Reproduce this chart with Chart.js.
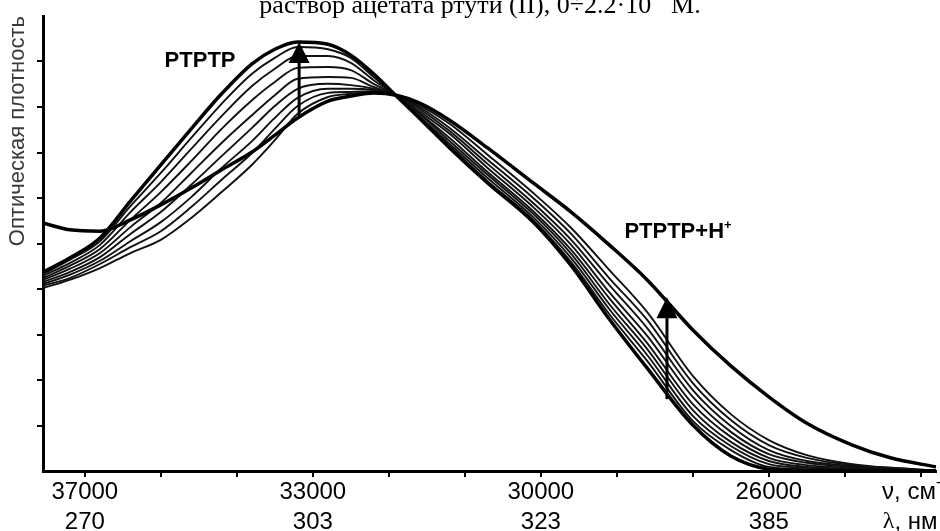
<!DOCTYPE html>
<html lang="ru">
  <head>
    <meta charset="UTF-8" />
    <title>Оптическая плотность</title>
    <script src="https://cdn.jsdelivr.net/npm/chart.js"></script>
    <style>
      html, body { margin: 0; padding: 0; background: #fff; }
      #wrap { width: 940px; height: 531px; position: relative; }
    </style>
  </head>
  <body>
    <div id="wrap"><canvas id="spectra"></canvas></div>

    <script>
      // x positions in axis-tick units (tick 0 = 37000, 3 = 33000, 6 = 30000, 9 = 26000)
      const xPos = [-0.55, -0.2, 0.2, 0.6, 1.0, 1.4, 1.8, 2.2, 2.5, 2.8, 3.2, 3.5, 3.8, 4.1,
                    4.4, 4.8, 5.3, 5.9, 6.4, 6.9, 7.4, 8.0, 8.5, 9.0, 9.5, 10.1, 10.6, 11.2];

      // tick labels
      const tickAt = [0, 3, 6, 9];
      const nuLabels = ['37000', '33000', '30000', '26000'];
      const lambdaLabels = ['270', '303', '323', '385'];

      // optical density, axis units (0..10)
      const ptptp = [4.37, 4.68, 5.12, 5.93, 6.73, 7.52, 8.29, 8.95, 9.27, 9.43, 9.38, 9.14, 8.73, 8.24,
                     7.76, 7.10, 6.33, 5.47, 4.51, 3.34, 2.26, 1.01, 0.33, 0.04, 0, 0, 0, 0];
      const step1 = [4.33, 4.64, 5.05, 5.82, 6.55, 7.32, 8.07, 8.73, 9.08, 9.32, 9.27, 9.08, 8.66, 8.24,
                     7.78, 7.14, 6.37, 5.52, 4.59, 3.45, 2.42, 1.10, 0.46, 0.09, 0.04, 0.02, 0.02, 0.01];
      const step2 = [4.29, 4.57, 4.97, 5.69, 6.35, 7.08, 7.80, 8.46, 8.84, 9.12, 9.12, 8.97, 8.59, 8.26,
                     7.80, 7.19, 6.44, 5.58, 4.68, 3.56, 2.55, 1.21, 0.55, 0.15, 0.07, 0.04, 0.02, 0.01];
      const step3 = [4.24, 4.51, 4.88, 5.52, 6.13, 6.81, 7.52, 8.15, 8.55, 8.86, 8.88, 8.81, 8.51, 8.26,
                     7.85, 7.25, 6.51, 5.65, 4.77, 3.67, 2.68, 1.34, 0.64, 0.22, 0.09, 0.04, 0.02, 0.01];
      const step4 = [4.20, 4.44, 4.79, 5.36, 5.89, 6.55, 7.21, 7.82, 8.26, 8.62, 8.66, 8.64, 8.44, 8.26,
                     7.87, 7.32, 6.57, 5.71, 4.86, 3.80, 2.81, 1.47, 0.75, 0.29, 0.13, 0.07, 0.04, 0.01];
      const step5 = [4.15, 4.37, 4.70, 5.21, 5.69, 6.29, 6.92, 7.54, 8.02, 8.40, 8.51, 8.48, 8.40, 8.26,
                     7.91, 7.41, 6.66, 5.80, 4.97, 3.93, 2.97, 1.63, 0.86, 0.37, 0.18, 0.09, 0.04, 0.01];
      const step6 = [4.11, 4.31, 4.62, 5.05, 5.47, 6.02, 6.66, 7.25, 7.76, 8.20, 8.40, 8.40, 8.37, 8.26,
                     7.96, 7.47, 6.75, 5.89, 5.08, 4.09, 3.14, 1.78, 0.99, 0.46, 0.22, 0.11, 0.04, 0.01];
      const step7 = [4.07, 4.24, 4.55, 4.92, 5.27, 5.80, 6.40, 6.99, 7.52, 8.02, 8.31, 8.33, 8.35, 8.26,
                     8.00, 7.54, 6.84, 6.00, 5.21, 4.24, 3.32, 1.93, 1.12, 0.57, 0.29, 0.13, 0.07, 0.01];
      const step8 = [4.02, 4.20, 4.46, 4.79, 5.08, 5.56, 6.13, 6.73, 7.27, 7.85, 8.22, 8.29, 8.33, 8.26,
                     8.04, 7.63, 6.95, 6.11, 5.34, 4.42, 3.49, 2.09, 1.25, 0.68, 0.35, 0.15, 0.07, 0.01];
      const ptptpH = [5.45, 5.30, 5.27, 5.52, 5.85, 6.22, 6.62, 7.01, 7.38, 7.76, 8.13, 8.24, 8.31, 8.26,
                      8.09, 7.71, 7.10, 6.33, 5.69, 4.97, 4.20, 3.10, 2.31, 1.63, 1.05, 0.57, 0.29, 0.09];

      const sans = '"Liberation Sans", Arial, sans-serif';
      const serif = '"Liberation Serif", "Times New Roman", serif';

      const toPoints = arr => arr.map((v, i) => ({ x: xPos[i], y: v }));

      const thick = (label, arr) => ({
        label, data: toPoints(arr), borderColor: '#000', borderWidth: 3.5,
        pointRadius: 0, cubicInterpolationMode: 'monotone', fill: false
      });
      const thin = (label, arr) => ({
        label, data: toPoints(arr), borderColor: '#111', borderWidth: 1.9,
        pointRadius: 0, cubicInterpolationMode: 'monotone', fill: false
      });

      // draw a run of text pieces, some raised as superscripts
      function drawPieces(ctx, pieces, x, y) {
        let cx = x;
        pieces.forEach(p => {
          ctx.font = p.font;
          ctx.fillText(p.t, cx, y - (p.up || 0));
          cx += ctx.measureText(p.t).width;
        });
      }

      function drawArrow(ctx, x, yFrom, yTo) {
        const headLen = 21, headHalf = 10.5;
        ctx.strokeStyle = '#000';
        ctx.fillStyle = '#000';
        ctx.lineWidth = 3;
        ctx.beginPath();
        ctx.moveTo(x, yFrom);
        ctx.lineTo(x, yTo + headLen - 2);
        ctx.stroke();
        ctx.beginPath();
        ctx.moveTo(x, yTo);
        ctx.lineTo(x - headHalf, yTo + headLen);
        ctx.lineTo(x + headHalf, yTo + headLen);
        ctx.closePath();
        ctx.fill();
      }

      const notes = {
        id: 'notes',
        afterDraw(chart) {
          const { ctx, scales: { x, y } } = chart;
          ctx.save();
          ctx.textBaseline = 'alphabetic';
          ctx.fillStyle = '#000';

          // arrows (titration direction)
          drawArrow(ctx, x.getPixelForValue(2.82), y.getPixelForValue(7.76), y.getPixelForValue(9.43));
          drawArrow(ctx, x.getPixelForValue(7.66), y.getPixelForValue(1.58), y.getPixelForValue(3.82));

          // curve labels
          ctx.fillStyle = '#000';
          const bold = 'bold 22px ' + sans;
          drawPieces(ctx, [{ t: 'PTPTP', font: bold }],
                     x.getPixelForValue(1.05), y.getPixelForValue(8.88));
          drawPieces(ctx, [{ t: 'PTPTP+H', font: bold }, { t: '+', font: 'bold 13px ' + sans, up: 9 }],
                     x.getPixelForValue(7.1), y.getPixelForValue(5.12));

          // units at the right end of the x axis
          const row1 = x.top + 21, row2 = x.top + 51;
          ctx.textBaseline = 'middle';
          drawPieces(ctx, [{ t: 'ν, см', font: '24px ' + sans }, { t: '-1', font: '14px ' + sans, up: 9 }],
                     x.getPixelForValue(10.49), row1);
          drawPieces(ctx, [{ t: 'λ', font: '24px ' + serif }, { t: ', нм', font: '24px ' + sans }],
                     x.getPixelForValue(10.5), row2);

          // caption line, cut at the top edge as in the source
          ctx.textBaseline = 'alphabetic';
          const capFont = '26px ' + serif;
          const parts = [
            { t: 'раствор ацетата ртути (II), 0÷2.2·10', font: capFont },
            { t: '-4', font: '16px ' + serif, up: 13 },
            { t: ' M.', font: capFont }
          ];
          let w = 0;
          parts.forEach(p => { ctx.font = p.font; w += ctx.measureText(p.t).width; });
          drawPieces(ctx, parts, 480 - w / 2, 13);
          ctx.restore();
        }
      };

      new Chart(document.getElementById('spectra'), {
        type: 'line',
        data: {
          datasets: [
            thick('PTPTP', ptptp),
            thick('PTPTP+H+', ptptpH),
            thin('1', step1), thin('2', step2), thin('3', step3), thin('4', step4),
            thin('5', step5), thin('6', step6), thin('7', step7), thin('8', step8)
          ]
        },
        options: {
          responsive: true,
          maintainAspectRatio: false,
          animation: false,
          layout: { padding: { top: 16, right: 4, left: 0, bottom: 0 } },
          plugins: { legend: { display: false }, tooltip: { enabled: false } },
          scales: {
            x: {
              type: 'linear',
              min: -0.55,
              max: 11.2,
              afterFit: s => { s.height = 60; },
              border: { color: '#000', width: 3 },
              grid: { drawOnChartArea: false, drawTicks: true, tickLength: 6, color: '#000', lineWidth: 2 },
              ticks: {
                stepSize: 1,
                includeBounds: false,
                autoSkip: false,
                maxRotation: 0,
                padding: 0,
                color: '#000',
                font: { family: sans, size: 24, lineHeight: 1.25 },
                callback: v => {
                  const i = tickAt.indexOf(v);
                  return i < 0 ? '' : [nuLabels[i], lambdaLabels[i]];
                }
              }
            },
            y: {
              min: 0,
              max: 10,
              afterFit: s => { s.width = 43; },
              border: { color: '#000', width: 3 },
              grid: {
                drawOnChartArea: false, drawTicks: true, tickLength: 6, lineWidth: 2,
                color: c => (c.tick && (c.tick.value === 0 || c.tick.value === 10)) ? 'rgba(0,0,0,0)' : '#000'
              },
              ticks: { stepSize: 1, display: false },
              title: {
                display: true,
                text: 'Оптическая плотность',
                align: 'end',
                color: '#3a3a3a',
                font: { family: sans, size: 22 },
                padding: { top: 5, bottom: 0 }
              }
            }
          }
        },
        plugins: [notes]
      });
    </script>
  </body>
</html>
